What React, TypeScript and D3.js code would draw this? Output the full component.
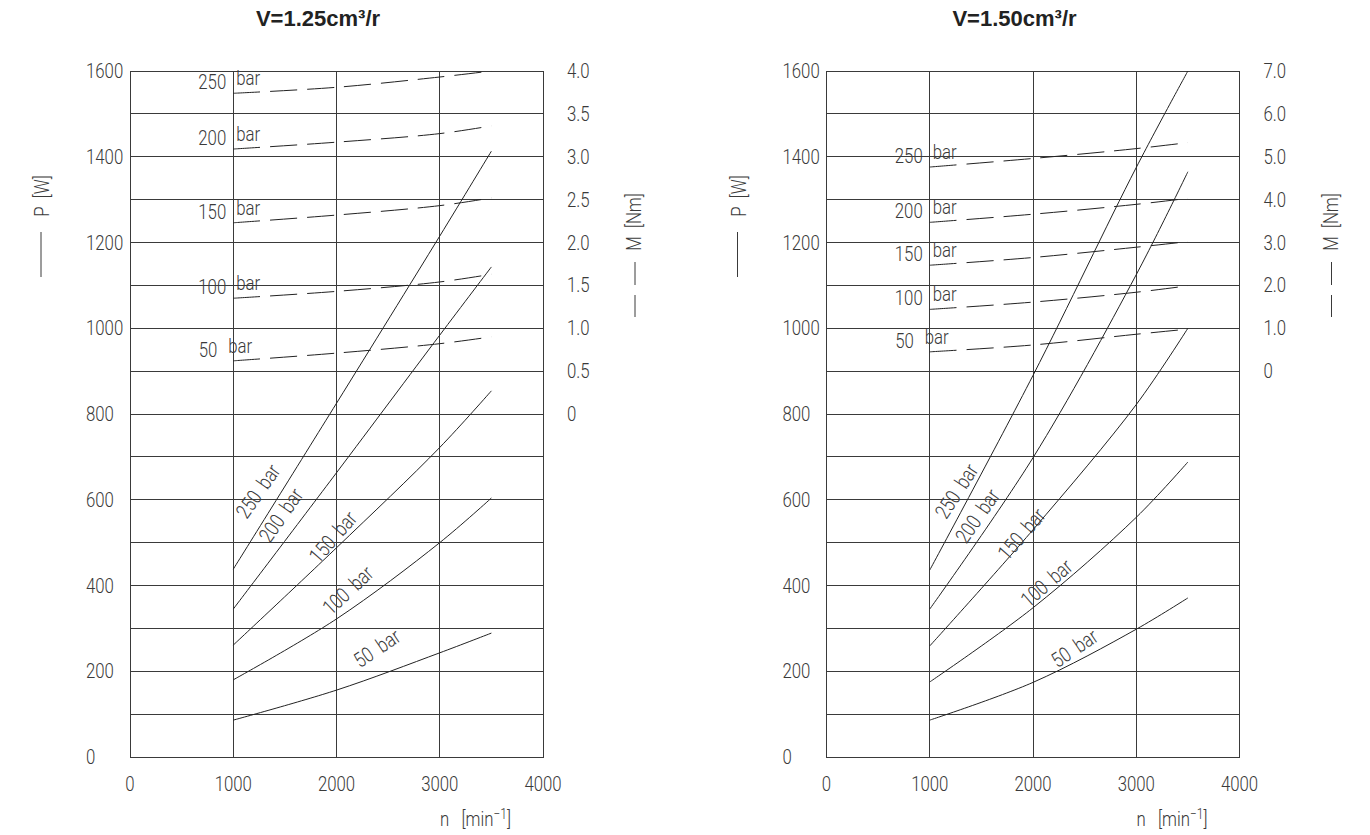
import React from 'react';
import * as d3 from 'd3';

// ---------- data ----------
const speeds = [1000, 2000, 3000, 3500];
const pressureLabels = ['250', '200', '150', '100', '50'];

// V = 1.25 cm³/r
const powerV125 = [
  [438, 825, 1215, 1413],
  [345, 663, 984, 1143],
  [261, 488, 722, 854],
  [180, 322, 500, 604],
  [86, 156, 243, 289],
];
const torqueV125 = [
  [3.74, 3.81, 3.93, 4.0],
  [3.09, 3.17, 3.27, 3.36],
  [2.23, 2.32, 2.43, 2.52],
  [1.35, 1.43, 1.54, 1.63],
  [0.62, 0.71, 0.82, 0.9],
];

// V = 1.50 cm³/r
const powerV150 = [
  [436, 890, 1375, 1600],
  [345, 698, 1125, 1365],
  [259, 530, 822, 1000],
  [175, 348, 559, 688],
  [86, 174, 298, 371],
];
const torqueV150 = [
  [4.76, 4.96, 5.19, 5.33],
  [3.47, 3.66, 3.89, 4.03],
  [2.47, 2.65, 2.89, 3.02],
  [1.44, 1.61, 1.84, 1.99],
  [0.45, 0.61, 0.86, 0.98],
];

const powerGrid = [0, 100, 200, 300, 400, 500, 600, 700, 800, 900, 1000, 1100, 1200, 1300, 1400, 1500, 1600];
const powerTicks = [0, 200, 400, 600, 800, 1000, 1200, 1400, 1600];
const speedTicks = [0, 1000, 2000, 3000, 4000];
const speedGrid = [1000, 2000, 3000];
const torqueTicksV125 = [4.0, 3.5, 3.0, 2.5, 2.0, 1.5, 1.0, 0.5, 0];
const torqueTicksV150 = [7.0, 6.0, 5.0, 4.0, 3.0, 2.0, 1.0, 0];

// curve label anchors in data units: [n, P, angle]
const curveLabelsV125 = [
  [1240, 620, -55],
  [1462, 564, -55],
  [1966, 513, -49],
  [2111, 389, -43],
  [2392, 254, -34],
];
const curveLabelsV150 = [
  [1259, 620, -57],
  [1462, 562, -55],
  [1889, 520, -49],
  [2131, 406, -41],
  [2402, 254, -34],
];

// ---------- drawing ----------
const FONT = "Roboto, 'DejaVu Sans', sans-serif";
const TXT = '#3a3a3a';
const LINE = '#222';
const SP = '\u00a0';

function T({ x, y, rot = 0, anchor = 'start', size = 21, dy, children }: any) {
  return (
    <text
      transform={`translate(${x},${y}) rotate(${rot}) scale(0.8,1)`}
      textAnchor={anchor}
      fontSize={size}
      fontFamily={FONT}
      fontWeight={300}
      fill={TXT}
      dy={dy}
    >
      {children}
    </text>
  );
}

function Panel({ x0, title, power, torque, torqueMax, torqueZero, torqueTicks, labels }: any) {
  const width = 413;
  const x = d3.scaleLinear().domain([0, 4000]).range([x0, x0 + width]);
  const yP = d3.scaleLinear().domain([0, 1600]).range([757, 71]);
  const yM = d3.scaleLinear().domain([0, torqueMax]).range([yP(torqueZero), yP(1600)]);
  const x1 = x0 + width;

  const pLine = d3
    .line<number>()
    .x((_, i) => x(speeds[i]))
    .y((d) => yP(d))
    .curve(d3.curveCatmullRom.alpha(0.5));
  const mLine = d3
    .line<number>()
    .x((_, i) => x(speeds[i]))
    .y((d) => yM(d))
    .curve(d3.curveCatmullRom.alpha(0.5));

  const fmtM = (v: number) => (v === 0 ? '0' : v.toFixed(1));

  return (
    <g>
      <text
        x={x0 + 188}
        y={26}
        textAnchor="middle"
        fontFamily="'Liberation Sans', Arial, sans-serif"
        fontWeight="bold"
        fontSize={22}
        fill="#222"
      >
        {title}
      </text>

      {/* grid */}
      <g stroke="#3a3a3a" strokeWidth={1} shapeRendering="crispEdges">
        {powerGrid.map((p) => (
          <line key={'h' + p} x1={x0} x2={x1} y1={yP(p)} y2={yP(p)} />
        ))}
        {speedGrid.map((n) => (
          <line key={'v' + n} x1={x(n)} x2={x(n)} y1={yP(0)} y2={yP(1600)} />
        ))}
        <rect x={x0} y={yP(1600)} width={width} height={yP(0) - yP(1600)} fill="none" />
      </g>

      {/* power curves */}
      {power.map((s: number[], i: number) => (
        <path key={'p' + i} d={pLine(s) || ''} fill="none" stroke={LINE} strokeWidth={1} />
      ))}
      {/* torque curves */}
      {torque.map((s: number[], i: number) => (
        <path
          key={'m' + i}
          d={mLine(s) || ''}
          fill="none"
          stroke={LINE}
          strokeWidth={1}
          strokeDasharray="27 10"
        />
      ))}

      {/* torque curve labels */}
      {torque.map((s: number[], i: number) => {
        const sx = x(speeds[0]);
        const sy = yM(s[0]);
        const is50 = pressureLabels[i] === '50';
        return (
          <g key={'ml' + i}>
            <T x={sx + (is50 ? -16 : -7)} y={sy - 4} anchor="end">
              {pressureLabels[i]}
            </T>
            <T x={sx + (is50 ? -5 : 3)} y={sy - 8}>
              bar
            </T>
          </g>
        );
      })}

      {/* power curve labels */}
      {labels.map((l: number[], i: number) => (
        <T key={'pl' + i} x={x(l[0])} y={yP(l[1])} rot={l[2]} anchor="middle" dy="0.35em">
          {pressureLabels[i] + SP + SP + 'bar'}
        </T>
      ))}

      {/* left axis labels */}
      {powerTicks.map((p) => (
        <T key={'pt' + p} x={x0 - 44} y={yP(p) + 7}>
          {p}
        </T>
      ))}
      {/* right axis labels */}
      {torqueTicks.map((m: number) => (
        <T key={'mt' + m} x={x1 + 24} y={yM(m) + 7}>
          {fmtM(m)}
        </T>
      ))}
      {/* bottom axis labels */}
      {speedTicks.map((n) => (
        <T key={'st' + n} x={x(n)} y={791} anchor="middle">
          {n}
        </T>
      ))}

      {/* axis titles */}
      <T x={x0 - 81} y={196} rot={-90} anchor="middle">
        {'P' + SP + SP + '[W]'}
      </T>
      <line x1={x0 - 89} x2={x0 - 89} y1={232} y2={277} stroke={TXT} strokeWidth={1} />

      <T x={x1 + 98} y={222} rot={-90} anchor="middle">
        {'M' + SP + SP + '[Nm]'}
      </T>
      <line
        x1={x1 + 92}
        x2={x1 + 92}
        y1={262}
        y2={317}
        stroke={TXT}
        strokeWidth={1}
        strokeDasharray="23 10"
      />

      <text
        transform={`translate(${x0 + 310},826) scale(0.8,1)`}
        fontSize={21}
        fontFamily={FONT}
        fontWeight={300}
        fill={TXT}
      >
        <tspan>{'n' + SP + SP + SP + '[min'}</tspan>
        <tspan fontSize={15} dy={-7}>
          {'−1'}
        </tspan>
        <tspan dy={7}>]</tspan>
      </text>
    </g>
  );
}

export default function App() {
  return (
    <svg
      width={1370}
      height={835}
      style={{ position: 'absolute', left: 0, top: 0, background: '#fff' }}
    >
      <rect x={0} y={0} width={1370} height={835} fill="#fff" />
      <Panel
        x0={130}
        title="V=1.25cm³/r"
        power={powerV125}
        torque={torqueV125}
        torqueMax={4}
        torqueZero={800}
        torqueTicks={torqueTicksV125}
        labels={curveLabelsV125}
      />
      <Panel
        x0={826.5}
        title="V=1.50cm³/r"
        power={powerV150}
        torque={torqueV150}
        torqueMax={7}
        torqueZero={900}
        torqueTicks={torqueTicksV150}
        labels={curveLabelsV150}
      />
    </svg>
  );
}
